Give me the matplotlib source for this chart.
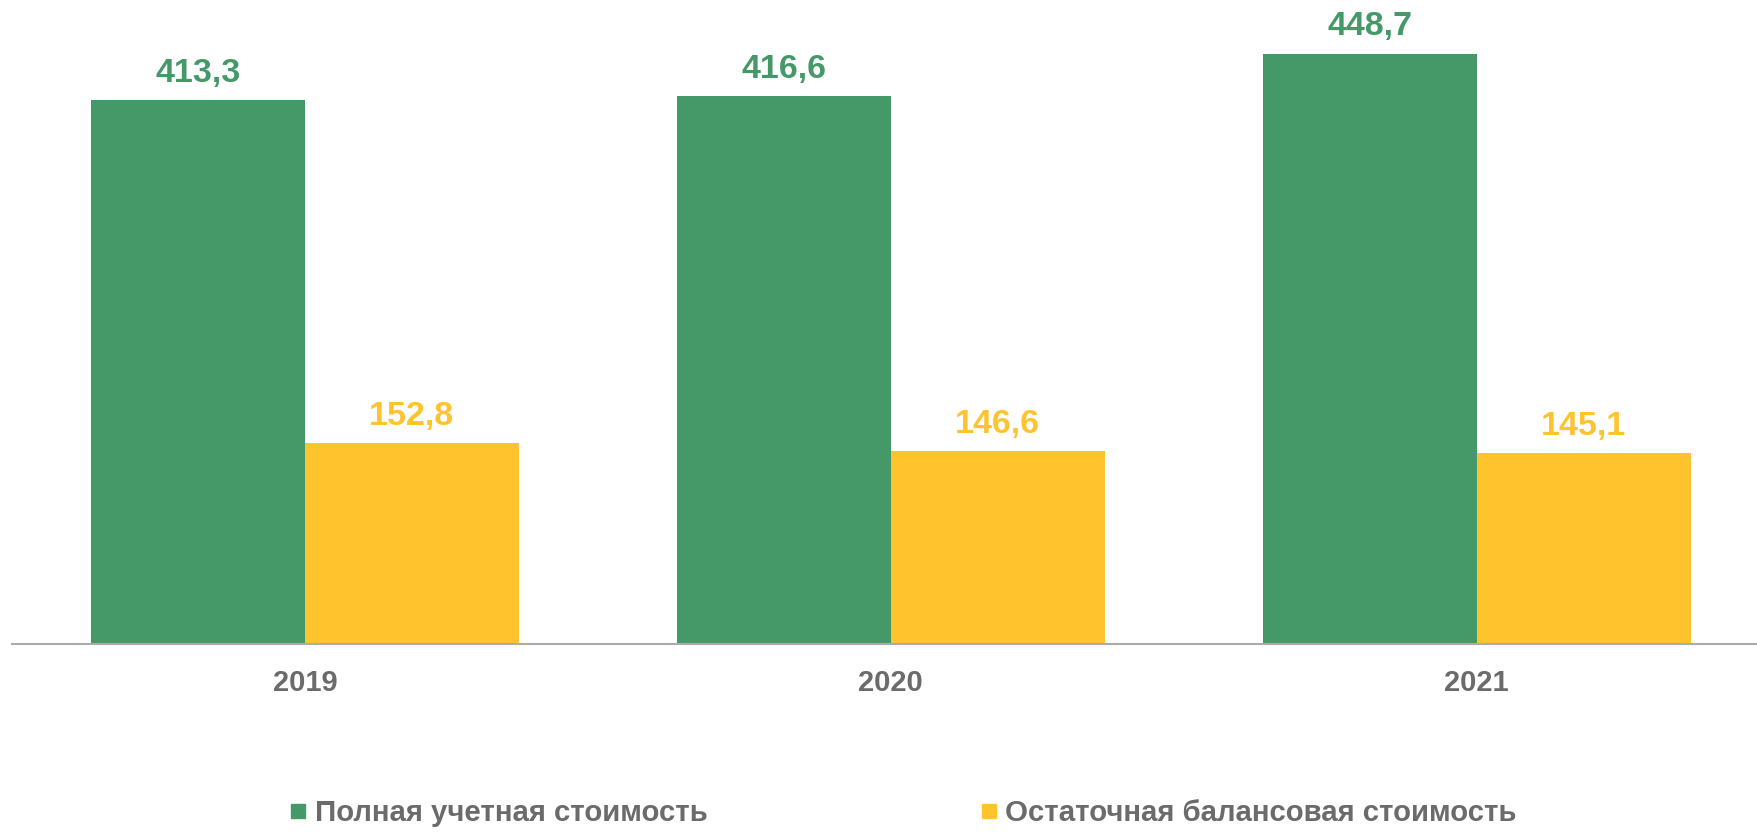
import matplotlib.pyplot as plt
from matplotlib.lines import Line2D
import numpy as np

years = ['2019', '2020', '2021']
full_cost = [413.3, 416.6, 448.7]
residual_cost = [152.8, 146.6, 145.1]
series_names = ['Полная учетная стоимость', 'Остаточная балансовая стоимость']

green = '#459968'
yellow = '#FEC32D'
grey = '#6B6B6B'

plt.rcParams['font.family'] = ['Liberation Sans', 'DejaVu Sans']
plt.rcParams['font.weight'] = 'bold'

fig = plt.figure(figsize=(17.58, 8.32), dpi=100)
ax = fig.add_axes([12 / 1758, 188 / 832, 1 - 12 / 1758, 644 / 832])

x = np.arange(len(years))
w = 0.365
b1 = ax.bar(x - w / 2, full_cost, w, color=green)
b2 = ax.bar(x + w / 2, residual_cost, w, color=yellow)

# value labels above bars
for bars, vals, col in [(b1, full_cost, green), (b2, residual_cost, yellow)]:
    for bar, v in zip(bars, vals):
        ax.annotate(f'{v:.1f}'.replace('.', ','),
                    (bar.get_x() + bar.get_width() / 2, bar.get_height()),
                    xytext=(0, 8), textcoords='offset points',
                    ha='center', va='bottom', fontsize=24.5, color=col, fontweight='bold')

ax.set_xlim(-0.5, 2.48)
ax.set_ylim(0, 489.4)
ax.set_xticks(x)
ax.set_xticklabels(years, fontsize=21, color=grey, fontweight='bold')
ax.tick_params(axis='x', length=0, pad=18)
ax.set_yticks([])
for s in ['top', 'right', 'left']:
    ax.spines[s].set_visible(False)
ax.spines['bottom'].set_color('#ABABAB')
ax.spines['bottom'].set_linewidth(1.5)

handles = [Line2D([], [], marker='s', linestyle='', markersize=9.5, color=green),
           Line2D([], [], marker='s', linestyle='', markersize=9.5, color=yellow)]
fig.legend(handles, series_names, loc='center', bbox_to_anchor=(0.514, 19 / 832),
           ncol=2, frameon=False, handlelength=0.5, handletextpad=0.3,
           columnspacing=9.3, prop={'size': 21.2, 'weight': 'bold'}, labelcolor=grey)

fig.savefig('out.png', dpi=100)
